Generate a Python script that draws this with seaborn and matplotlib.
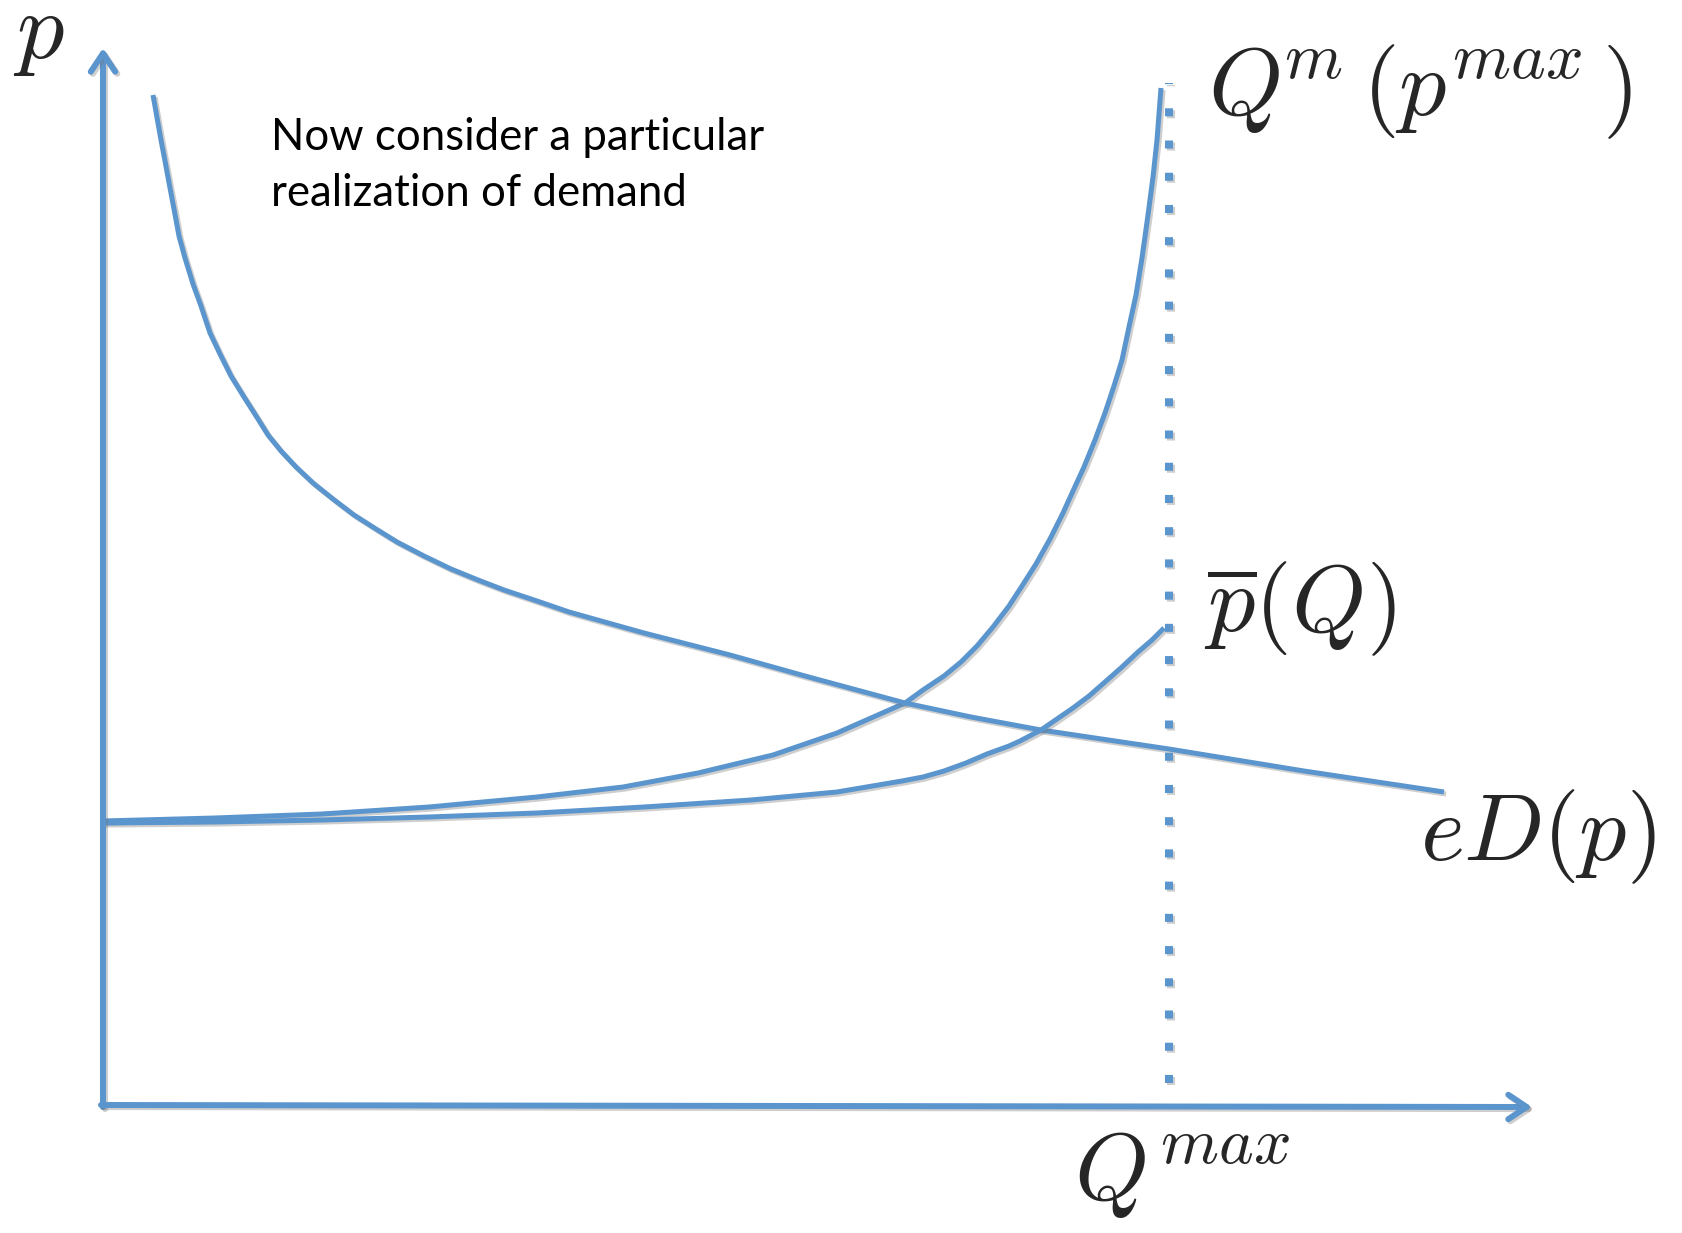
import numpy as np
import pandas as pd
import matplotlib
matplotlib.use("Agg")
import matplotlib.pyplot as plt
import matplotlib.patheffects as pe
import seaborn as sns

# ---- data (Q = quantity, p = price) ----
ed_q = [50, 58, 62, 67, 71, 76, 82, 90, 98, 107, 117, 128, 141, 155, 165, 178, 193,
        210, 230, 251, 273, 294, 321, 348, 375, 401, 434, 466,
        541, 627, 702, 802, 868, 938, 1066, 1201, 1341]
ed_p = [1010, 965, 944, 917, 896, 869, 847, 821, 799, 772, 751, 729, 708, 686, 670, 654, 638,
        622, 606, 590, 576, 563, 549, 536, 525, 515, 504, 493,
        472, 450, 429, 402, 388, 375, 356, 334, 313]

qm_q = [0, 112, 219, 326, 434, 520, 595, 670, 734, 802, 820, 841, 858, 874, 890, 906,
        919, 933, 947, 960, 970, 981, 992, 1002, 1011, 1019, 1026, 1033, 1039, 1045,
        1050, 1054, 1058]
qm_p = [284, 287, 291, 298, 308, 318, 332, 350, 372, 402, 415, 429, 443, 459, 478, 499,
        519, 541, 566, 592, 614, 638, 665, 692, 719, 745, 778, 810, 847, 890,
        928, 965, 1017]

pb_q = [0, 112, 219, 326, 434, 541, 648, 734, 799, 820, 841, 863, 884, 906, 917, 938,
        954, 970, 986, 1002, 1019, 1035, 1049, 1061]
pb_p = [282, 283, 285, 288, 292, 298, 305, 313, 324, 328, 334, 342, 351, 359, 364, 375,
        386, 397, 409, 423, 438, 453, 465, 477]

q_max = 1066
dot_p_low, dot_p_high = 26, 1018
x_axis_end, y_axis_end = 1429, 1057

labels = {
    "p": r"$p$",
    "qm": r"$Q^{\!m}\,(p^{max}\,)$",
    "pbar": r"$\overline{p}(Q)$",
    "ed": r"$eD(p)$",
    "qmax": r"$Q^{max}$",
}
note = "Now consider a particular\nrealization of demand"

# ---- figure ----
sns.set_style("white")
plt.rcParams["mathtext.fontset"] = "cm"
plt.rcParams["font.family"] = ["Lato", "DejaVu Sans"]

W, H = 1683, 1233
fig = plt.figure(figsize=(W / 100, H / 100), dpi=100)
ax = fig.add_axes([0, 0, 1, 1])
ax.set_xlim(-103, W - 103)
ax.set_ylim(1105 - H, 1105)
ax.axis("off")

blue = "#5B95CD"
shadow = [pe.SimpleLineShadow(offset=(1.5, -1.5), shadow_color="0.45", alpha=0.35), pe.Normal()]

df = pd.concat([
    pd.DataFrame({"Q": ed_q, "p": ed_p, "curve": "eD"}),
    pd.DataFrame({"Q": qm_q, "p": qm_p, "curve": "Qm"}),
    pd.DataFrame({"Q": pb_q, "p": pb_p, "curve": "pbar"}),
])
sns.lineplot(data=df, x="Q", y="p", units="curve", estimator=None, sort=False,
             color=blue, lw=3.6, ax=ax, legend=False)
for ln in ax.lines:
    ln.set_path_effects(shadow)
    ln.set_solid_capstyle("butt")
    ln.set_solid_joinstyle("round")

# dotted Q^max line
ax.plot([q_max, q_max], [dot_p_low - 4, dot_p_high + 4], color=blue, lw=5.8,
        linestyle=(0, (1, 3)), dash_capstyle="butt", path_effects=shadow)

# axes with open arrowheads
arrow_kw = dict(arrowstyle="->,head_length=0.6,head_width=0.4", color=blue, lw=4.3,
                mutation_scale=22, shrinkA=0, shrinkB=0, capstyle="round",
                joinstyle="round", path_effects=shadow)
ax.annotate("", xy=(0, y_axis_end), xytext=(0, -2), arrowprops=arrow_kw)
ax.annotate("", xy=(x_axis_end, -2), xytext=(-2, 0), arrowprops=arrow_kw)

# labels
fs = 68
ax.text(-90, 1105 - 58, labels["p"], fontsize=fs, va="baseline", ha="left")
ax.text(1208 - 103, 1105 - 115, labels["qm"], fontsize=fs, va="baseline", ha="left")
ax.text(1204 - 103, 1105 - 632, labels["pbar"], fontsize=fs, va="baseline", ha="left")
ax.text(1420 - 103, 1105 - 860, labels["ed"], fontsize=fs, va="baseline", ha="left")
ax.text(1074 - 103, 1105 - 1200, labels["qmax"], fontsize=fs, va="baseline", ha="left")

ax.text(271 - 103, 1105 - 206, note, fontsize=31.5, va="baseline", ha="left",
        linespacing=1.45, color="black")

fig.savefig("out.png", dpi=100)
